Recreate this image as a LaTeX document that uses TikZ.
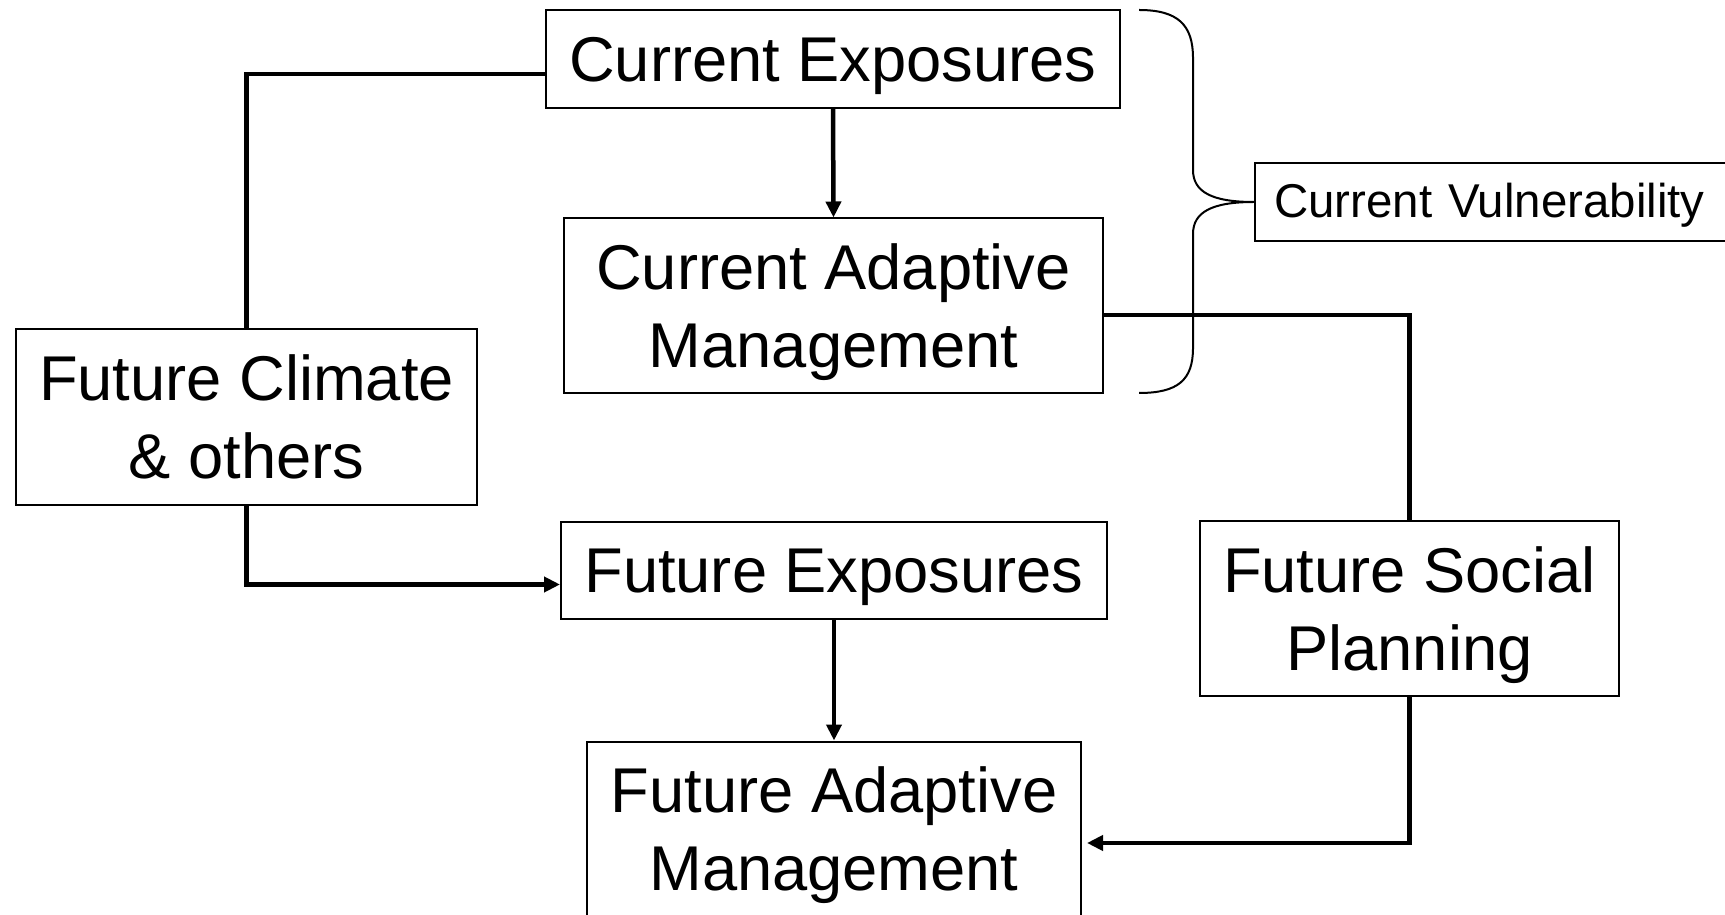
\documentclass[tikz,border=0pt]{standalone}
\usepackage{fontspec}
\setmainfont{Liberation Sans}
\usetikzlibrary{arrows.meta}

\begin{document}
\begin{tikzpicture}[x=0.1mm, y=-0.1mm, >={Triangle[length=1.6mm, width=1.5mm]},
    box/.style={draw, line width=0.2mm, align=center, inner sep=0pt,
      font=\fontsize{18}{22.2}\selectfont},
    low/.style={execute at begin node={\rule{0pt}{16.3pt}}},
    lowtwo/.style={text height=39pt},
    link/.style={line width=0.45mm}]
  \useasboundingbox (0,0) rectangle (1725,915);
  % Current situation
  \node[box, low, minimum width=57.4mm, minimum height=9.8mm] (curexp) at (833,59) {Current Exposures};
  \node[box, lowtwo, minimum width=53.9mm, minimum height=17.5mm] (curadapt) at (833.5,306) {Current Adaptive\\Management};
  % Future situation
  \node[box, minimum width=46.1mm, minimum height=17.6mm] (futclim) at (246.5,417) {Future Climate\\\& others};
  \node[box, low, minimum width=54.6mm, minimum height=9.7mm] (futexp) at (834,570.5) {Future Exposures};
  \node[box, lowtwo, minimum width=41.9mm, minimum height=17.5mm] (futsoc) at (1409.5,608.5) {Future Social\\Planning};
  \node[box, lowtwo, minimum width=49.4mm, minimum height=17.5mm] (futadapt) at (834,829) {Future Adaptive\\Management};
  % Label for the brace
  \node[box, anchor=west, minimum width=48mm, minimum height=7.8mm, text width=46mm, align=left,
    font=\fontsize{13.5}{16}\selectfont] (curvul) at (1254,202) {\hspace*{0.9mm}\rule{0pt}{11.5pt}Current Vulnerability};
  % Connectors
  \draw[link] ([yshift=-1.5mm]curexp.west) -| (futclim.north);
  \draw[link, ->] (futclim.south) |- ([yshift=-1.4mm]futexp.west);
  \draw[link, ->] (curexp.south) -- (curadapt.north);
  \draw[link, ->] (futexp.south) -- (futadapt.north);
  \draw[link] ([yshift=-0.9mm]curadapt.east) -| (futsoc.north);
  \draw[link, ->] (futsoc.south) |- ([xshift=0.5mm, yshift=-1.4mm]futadapt.east);
  % Brace round the two current boxes
  \draw[line width=0.2mm] (1139,10) .. controls (1178,10) and (1193,25) .. (1193,58)
    -- (1193,170) .. controls (1193,192) and (1212,202) .. (curvul.west)
    .. controls (1212,202) and (1193,212) .. (1193,234)
    -- (1193,348) .. controls (1193,380) and (1178,393) .. (1139,393);
\end{tikzpicture}
\end{document}
